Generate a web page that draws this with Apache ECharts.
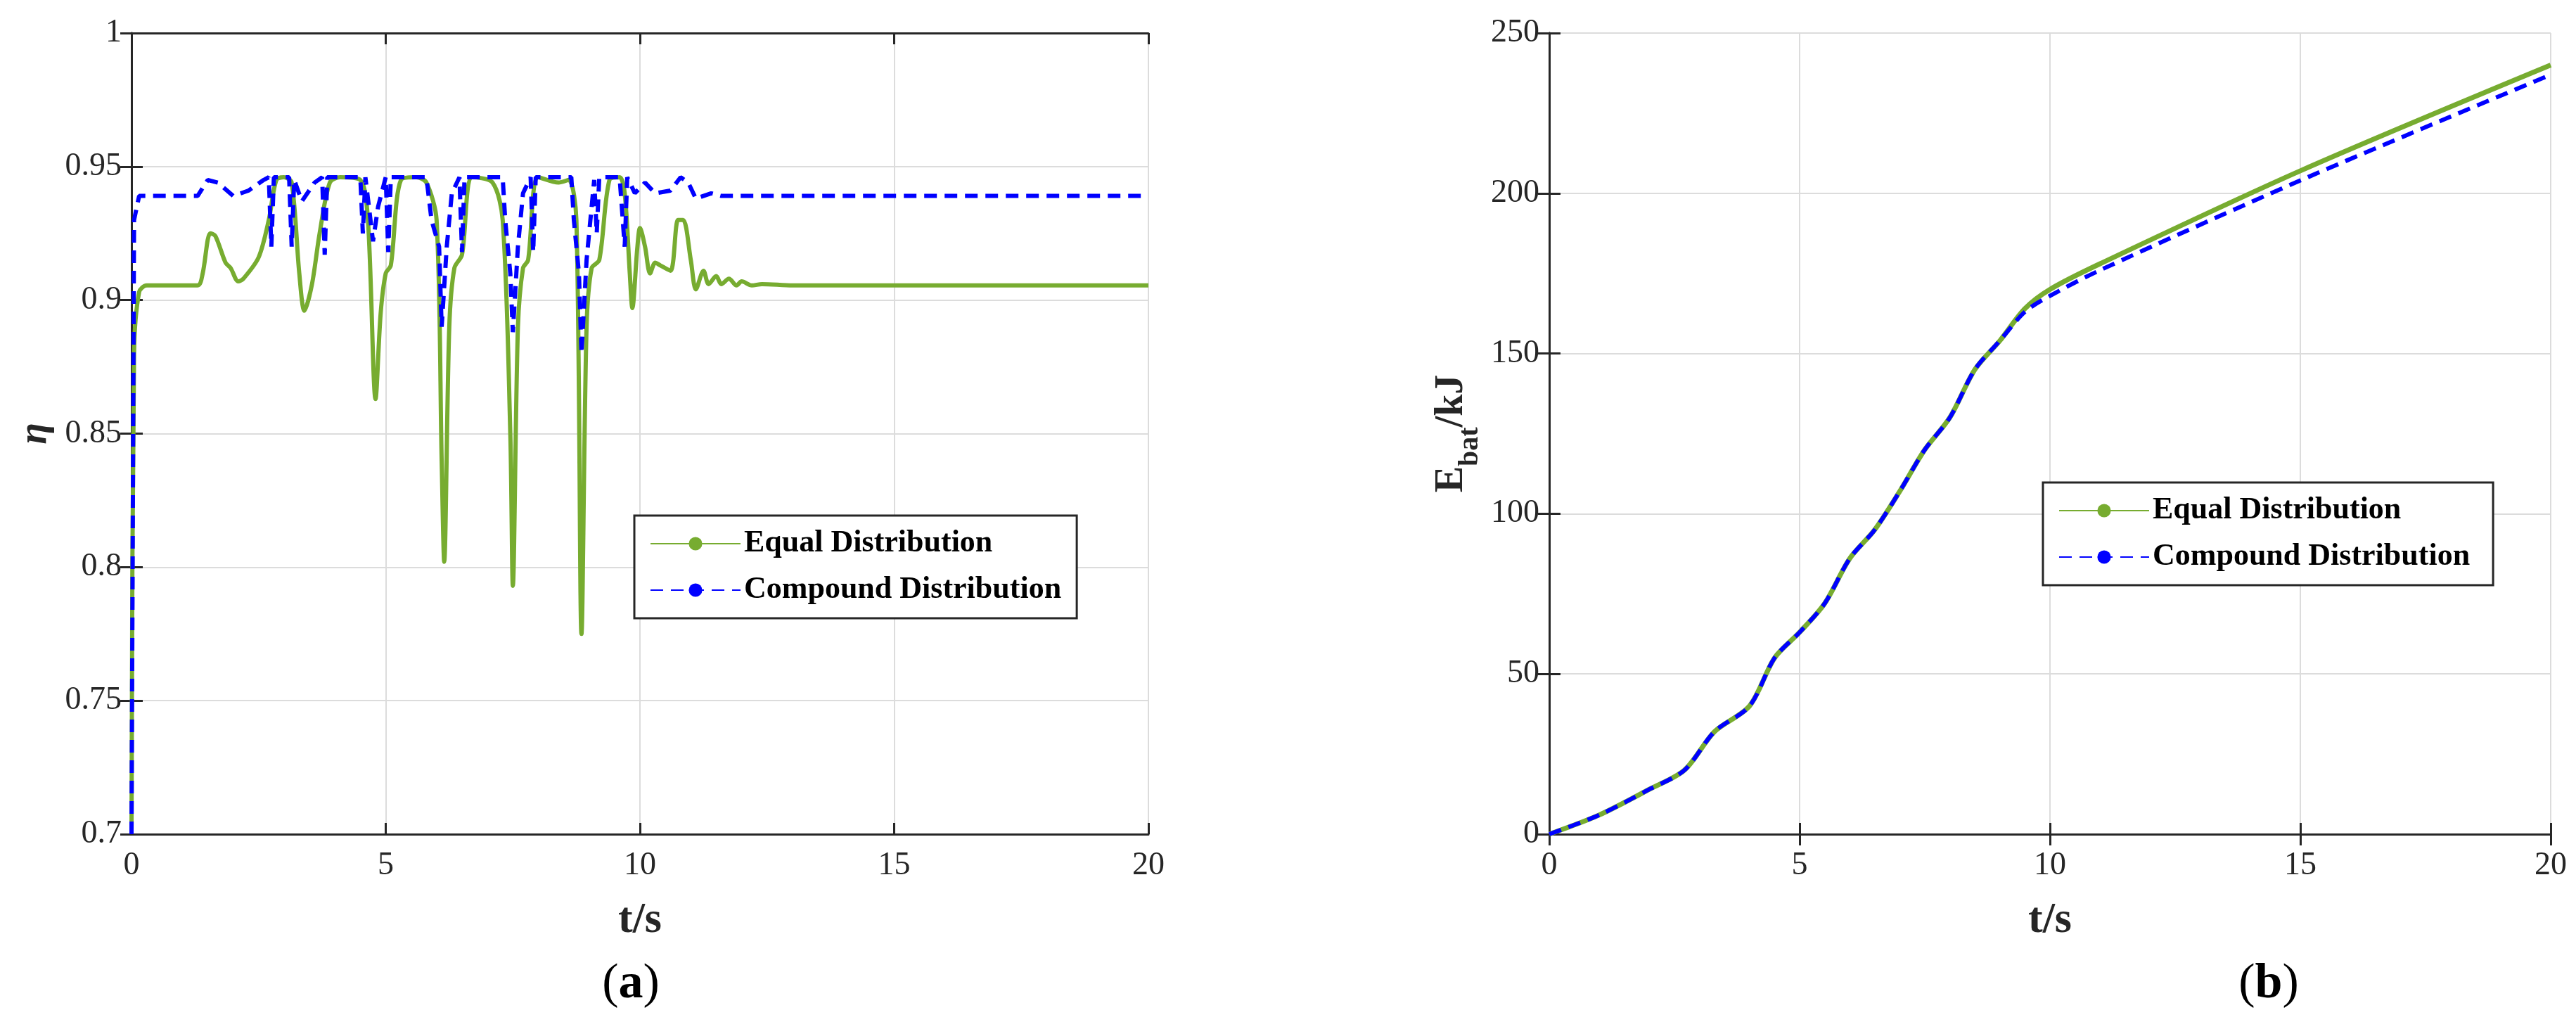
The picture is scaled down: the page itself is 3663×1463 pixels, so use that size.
<!DOCTYPE html>
<html>
<head>
<meta charset="utf-8">
<script src="https://cdn.jsdelivr.net/npm/echarts@6/dist/echarts.min.js"></script>
<style>html,body{margin:0;padding:0;background:#fff;}#main{width:3663px;height:1463px;}</style>
</head>
<body>
<div id="main"></div>
<script>
// (a) efficiency
const etaEqual = [[0,0.70],[0.05,0.88],[0.15,0.903],[0.3,0.9055],[1.3,0.9055],[1.4,0.91],[1.55,0.925],[1.65,0.924],[1.85,0.914],[1.95,0.912],[2.1,0.907],[2.2,0.908],[2.5,0.916],[2.7,0.93],[2.85,0.945],[3.0,0.946],[3.15,0.944],[3.3,0.91],[3.4,0.896],[3.55,0.906],[3.7,0.925],[3.9,0.944],[4.1,0.946],[4.5,0.945],[4.65,0.93],[4.8,0.863],[4.9,0.895],[5.0,0.91],[5.1,0.913],[5.3,0.945],[5.6,0.946],[5.8,0.944],[6.0,0.93],[6.1,0.84],[6.15,0.802],[6.25,0.89],[6.35,0.912],[6.5,0.917],[6.7,0.946],[7.1,0.944],[7.3,0.93],[7.45,0.85],[7.5,0.793],[7.6,0.89],[7.7,0.912],[7.8,0.915],[8.0,0.946],[8.4,0.944],[8.6,0.945],[8.75,0.93],[8.85,0.775],[8.95,0.89],[9.05,0.912],[9.2,0.915],[9.4,0.945],[9.6,0.946],[9.7,0.94],[9.8,0.91],[9.85,0.897],[9.95,0.92],[10.0,0.927],[10.1,0.92],[10.2,0.91],[10.3,0.914],[10.4,0.913],[10.6,0.911],[10.75,0.93],[10.85,0.93],[11.0,0.915],[11.1,0.904],[11.25,0.911],[11.35,0.906],[11.5,0.909],[11.6,0.906],[11.75,0.908],[11.9,0.9055],[12.0,0.907],[12.2,0.9055],[12.4,0.906],[13,0.9055],[20,0.9055]];
const etaCompound = [[0,0.70],[0.05,0.93],[0.15,0.939],[1.3,0.939],[1.5,0.945],[1.7,0.944],[2.0,0.939],[2.3,0.941],[2.6,0.945],[2.7,0.946],[2.75,0.92],[2.8,0.946],[3.1,0.946],[3.15,0.92],[3.2,0.945],[3.35,0.937],[3.6,0.944],[3.75,0.946],[3.8,0.917],[3.85,0.946],[4.5,0.946],[4.55,0.925],[4.6,0.946],[4.75,0.922],[4.85,0.935],[5.0,0.946],[5.05,0.918],[5.1,0.946],[5.8,0.946],[5.9,0.93],[6.05,0.92],[6.1,0.89],[6.2,0.92],[6.3,0.94],[6.45,0.946],[6.5,0.918],[6.55,0.946],[7.3,0.946],[7.35,0.93],[7.45,0.91],[7.5,0.888],[7.6,0.92],[7.7,0.94],[7.85,0.946],[7.9,0.918],[7.95,0.946],[8.65,0.946],[8.7,0.93],[8.8,0.91],[8.85,0.88],[8.95,0.915],[9.1,0.945],[9.15,0.925],[9.2,0.946],[9.6,0.946],[9.7,0.92],[9.75,0.946],[9.9,0.94],[10.1,0.944],[10.3,0.94],[10.6,0.941],[10.8,0.946],[10.95,0.944],[11.1,0.938],[11.4,0.94],[11.6,0.939],[20,0.939]];
// (b) battery energy
const ebatEqual = [[0,0],[1,6],[2,14],[2.7,20],[3.3,32],[4,40],[4.5,55],[5,63],[5.5,72],[6,86],[6.5,95],[7,107],[7.5,120],[8,130],[8.5,145],[9,154],[9.5,164],[10,170],[11,178],[15,207],[20,240]];
const ebatCompound = [[0,0],[1,6],[2,14],[2.7,20],[3.3,32],[4,40],[4.5,55],[5,63],[5.5,72],[6,86],[6.5,95],[7,107],[7.5,120],[8,130],[8.5,145],[9,154],[9.5,163],[10,168],[11,176],[15,204],[20,237]];

const FONT = 'Liberation Serif';
const GREEN = '#77ac30', BLUE = '#0000ff';
const grids = [
  {left:187, width:1446, top:47, height:1139},
  {left:2203, right:36, top:47, height:1139}
];
function xAx(i){
  return [{type:'value', gridIndex:i, min:0, max:20, interval:5,
    name:'t/s', nameLocation:'middle', nameGap:92,
    nameTextStyle:{fontFamily:FONT, fontWeight:'bold', fontSize:62, color:'#262626'},
    axisLine:{lineStyle:{color:'#262626', width:3}}, axisTick:{inside:true, length:16, lineStyle:{color:'#262626', width:3}},
    axisLabel:{fontFamily:FONT, fontSize:46, color:'#262626', margin:22},
    splitLine:{lineStyle:{color:'#dcdcdc', width:2}}},
   {type:'value', gridIndex:i, position:'top', min:0, max:20, interval:5,
    axisLine:{lineStyle:{color:'#262626', width:3}}, axisTick:{inside:true, length:16, lineStyle:{color:'#262626', width:3}},
    axisLabel:{show:false}, splitLine:{show:false}}];
}
function yAx(i, min, max, itv, name, gap, fmt){
  return [{type:'value', gridIndex:i, min:min, max:max, interval:itv,
    name:name, nameLocation:'middle', nameGap:gap,
    nameTextStyle:{fontFamily:FONT, fontWeight:'bold', fontSize:56, color:'#262626', fontStyle: i===0 ? 'italic':'normal',
      rich:{sub:{fontFamily:FONT, fontWeight:'bold', fontSize:40, color:'#262626', verticalAlign:'bottom', padding:[0,0,-18,0]}}},
    axisLine:{lineStyle:{color:'#262626', width:3}}, axisTick:{inside:true, length:16, lineStyle:{color:'#262626', width:3}},
    axisLabel:{fontFamily:FONT, fontSize:46, color:'#262626', margin:14, formatter:fmt},
    splitLine:{lineStyle:{color:'#dcdcdc', width:2}}},
   {type:'value', gridIndex:i, position:'right', min:min, max:max, interval:itv,
    axisLine:{lineStyle:{color:'#262626', width:3}}, axisTick:{inside:true, length:16, lineStyle:{color:'#262626', width:3}},
    axisLabel:{show:false}, splitLine:{show:false}}];
}
const chart = echarts.init(document.getElementById('main'));
const legendBase = {orient:'vertical', itemWidth:128, itemHeight:24, itemGap:22,
  backgroundColor:'#fff', borderColor:'#262626', borderWidth:3, padding:[18,22,18,22],
  textStyle:{fontFamily:FONT, fontWeight:'bold', fontSize:44, color:'#000'}};
chart.setOption({
  animation:false,
  grid:grids,
  xAxis:[...xAx(0), ...xAx(1)],
  yAxis:[...yAx(0,0.7,1,0.05,'η',108, v => String(+v.toFixed(2))), ...yAx(1,0,250,50,'E{sub|bat}/kJ',110)],
  legend:[
    Object.assign({}, legendBase, {left:902, top:733, data:['Equal Distribution','Compound Distribution']}),
    Object.assign({}, legendBase, {left:2905, top:686, data:['Equal Distribution ','Compound Distribution ']})
  ],
  graphic:[
    {type:'text', x:897, y:1400, style:{text:'({b|a})', fontFamily:FONT, fontSize:70, fill:'#000', align:'center', verticalAlign:'middle',
      rich:{b:{fontFamily:FONT, fontSize:70, fontWeight:'bold', fill:'#000'}}}},
    {type:'text', x:3226, y:1400, style:{text:'({b|b})', fontFamily:FONT, fontSize:70, fill:'#000', align:'center', verticalAlign:'middle',
      rich:{b:{fontFamily:FONT, fontSize:70, fontWeight:'bold', fill:'#000'}}}}
  ],
  series:[
    {name:'Equal Distribution', type:'line', xAxisIndex:0, yAxisIndex:0, data:etaEqual, smooth:0.3, symbol:'none',
      lineStyle:{color:GREEN, width:6}, itemStyle:{color:GREEN}},
    {name:'Compound Distribution', type:'line', xAxisIndex:0, yAxisIndex:0, data:etaCompound, symbol:'none',
      lineStyle:{color:BLUE, width:6, type:[18,11]}, itemStyle:{color:BLUE}},
    {name:'Equal Distribution ', type:'line', xAxisIndex:2, yAxisIndex:2, data:ebatEqual, smooth:0.3, symbol:'none',
      lineStyle:{color:GREEN, width:7}, itemStyle:{color:GREEN}},
    {name:'Compound Distribution ', type:'line', xAxisIndex:2, yAxisIndex:2, data:ebatCompound, smooth:0.3, symbol:'none',
      lineStyle:{color:BLUE, width:6, type:[18,11]}, itemStyle:{color:BLUE}}
  ]
});
</script>
</body>
</html>
